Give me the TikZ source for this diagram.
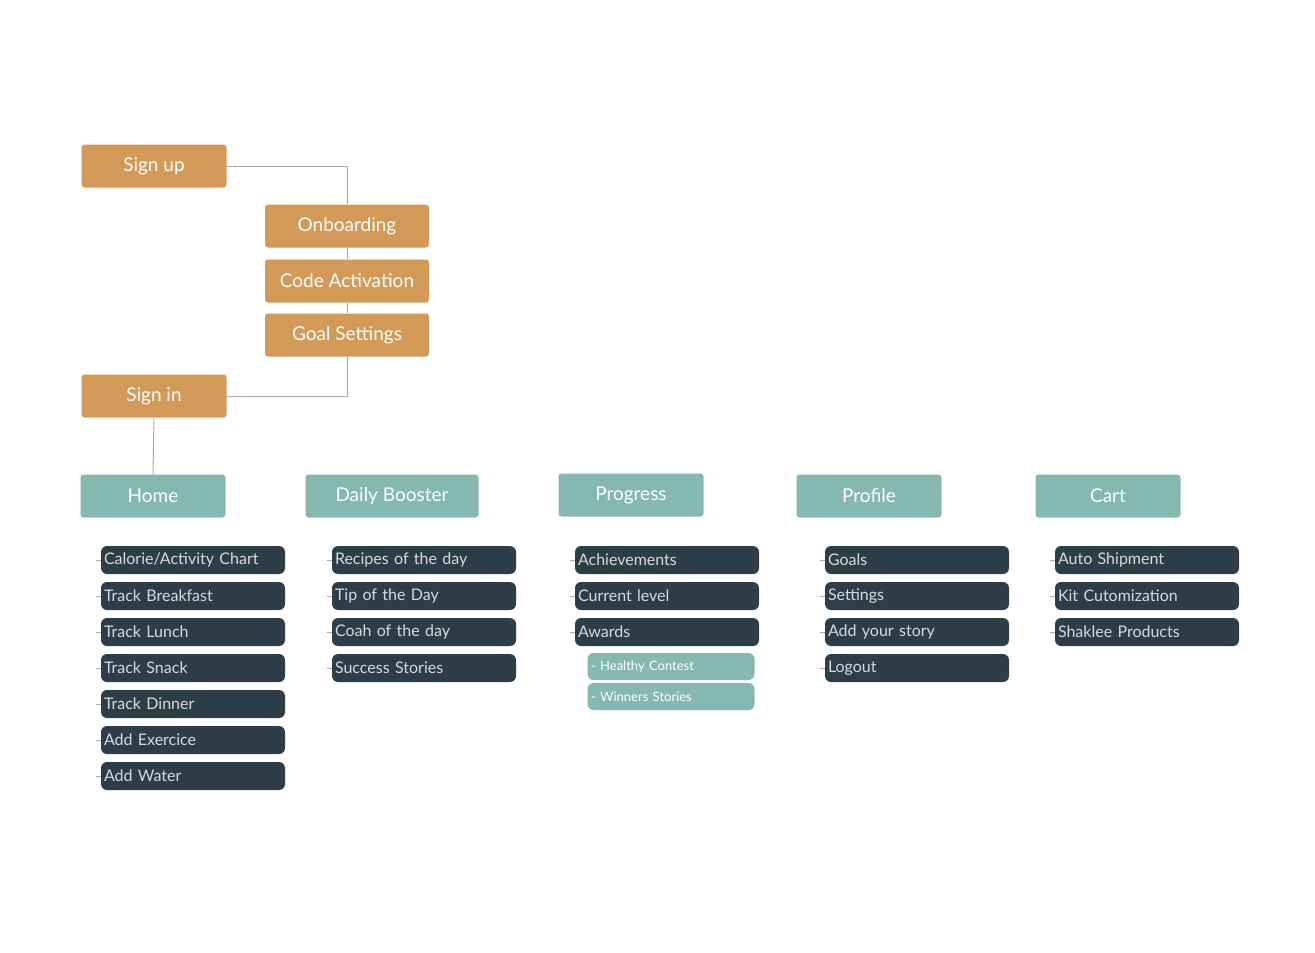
\documentclass[tikz,border=0pt]{standalone}
\usepackage{fontspec}
\setmainfont{Lato}
\definecolor{org}{HTML}{D39A57}
\definecolor{tea}{HTML}{85B9B0}
\definecolor{drk}{HTML}{2E3E48}
\definecolor{ln}{HTML}{A8A8A8}
\definecolor{lt}{HTML}{D5DADD}
\begin{document}
\begin{tikzpicture}[x=1pt,y=-1pt,
 obox/.style={fill=org,rounded corners=3pt,text=white,font=\fontsize{19}{19}\selectfont,inner sep=0pt},
 tbox/.style={fill=tea,rounded corners=3pt,text=white,font=\fontsize{19}{19}\selectfont,inner sep=0pt,minimum width=145pt,minimum height=43pt},
 dbox/.style={fill=drk,rounded corners=6pt,text=lt,font=\fontsize{16}{16}\selectfont,inner sep=0pt,minimum width=184pt,minimum height=28pt,text width=178pt,align=left},
 sbox/.style={fill=tea,rounded corners=6pt,text=white,font=\fontsize{13}{13}\selectfont,inner sep=0pt,minimum width=167pt,minimum height=27pt,text width=160pt,align=left},
 conn/.style={draw=ln,line width=1pt}]
\useasboundingbox (0,0) rectangle (1315,953);
\node[obox,minimum width=145pt,minimum height=43pt] (su) at (154,166) {Sign up};
\node[obox,minimum width=164pt,minimum height=43pt] (ob) at (347,226) {Onboarding};
\node[obox,minimum width=164pt,minimum height=43pt] (ca) at (347,281) {Code Activation};
\node[obox,minimum width=164pt,minimum height=43pt] (gs) at (347,335) {Goal Settings};
\node[obox,minimum width=145pt,minimum height=43pt] (si) at (154,396) {Sign in};
\draw[conn] (su.east) -| (ob.north);
\draw[conn] (ob) -- (ca); \draw[conn] (ca) -- (gs);
\draw[conn] (gs.south) |- (si.east);
\node[tbox] (home) at (153,496) {Home};
\draw[conn] (si.south) -- (home.north);
\node[tbox,minimum width=173pt] (db) at (392,496) {Daily Booster};
\node[tbox] (pr) at (631,495) {Progress};
\node[tbox] (pf) at (869,496) {Profile};
\node[tbox] (ct) at (1108,496) {Cart};
\foreach \col/\x/\list in {h/193/{Calorie/Activity Chart,Track Breakfast,Track Lunch,Track Snack,Track Dinner,Add Exercice,Add Water},
  d/424/{Recipes of the day,Tip of the Day,Coah of the day,Success Stories},
  p/667/{Achievements,Current level,Awards},
  f/917/{Goals,Settings,Add your story,Logout},
  c/1147/{Auto Shipment,Kit Cutomization,Shaklee Products}}{
  \foreach \t [count=\i] in \list {
    \node[dbox] (\col\i) at (\x,524+36*\i) {\t};
    \coordinate (\col\i t) at ([xshift=-5pt]\col\i.west);
    \draw[conn,line width=0.6pt] (\col\i t) -- (\col\i.west);
  }}
\node[sbox] (hc) at (671,666.5) {- Healthy Contest};
\node[sbox] (ws) at (671,696.5) {- Winners Stories};
\end{tikzpicture}
\end{document}
